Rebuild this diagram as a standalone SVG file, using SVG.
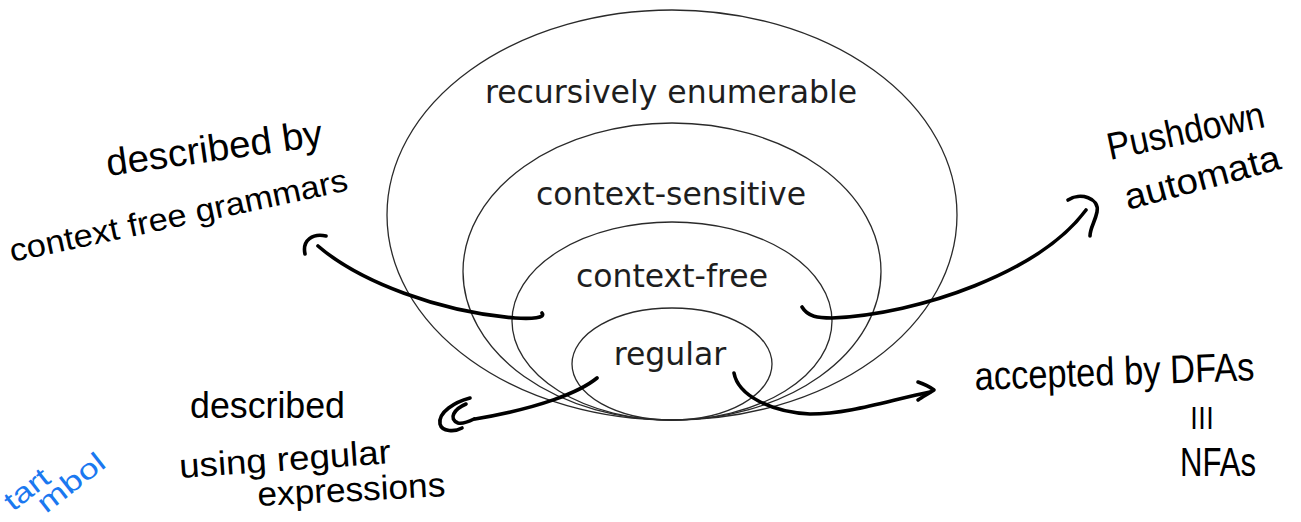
<svg xmlns="http://www.w3.org/2000/svg" width="1301" height="522" viewBox="0 0 1301 522">
  <style>
    .set { fill: none; stroke: #2a2a2a; stroke-width: 1.3; }
    .lbl { font-family: "DejaVu Sans", sans-serif; font-size: 31.5px; fill: #1e1e1e; text-anchor: middle; }
    .hand { font-family: "Liberation Sans", "DejaVu Sans", sans-serif; fill: #000; }
    .blue { font-family: "Liberation Sans", "DejaVu Sans", sans-serif; fill: #1a78f0; }
    .ink { fill: none; stroke: #000; stroke-width: 3.6; stroke-linecap: round; stroke-linejoin: round; }
  </style>
  <rect width="1301" height="522" fill="#fff"/>

  <!-- nested language classes, all touching at the bottom -->
  <g id="recursively-enumerable">
    <ellipse class="set" cx="672" cy="215" rx="285" ry="205"/>
    <text class="lbl" x="671" y="103">recursively enumerable</text>
  </g>
  <g id="context-sensitive">
    <ellipse class="set" cx="672" cy="271.5" rx="209" ry="148.5"/>
    <text class="lbl" x="671" y="205">context-sensitive</text>
  </g>
  <g id="context-free">
    <ellipse class="set" cx="672" cy="321" rx="160" ry="99"/>
    <text class="lbl" x="672" y="287">context-free</text>
  </g>
  <g id="regular">
    <ellipse class="set" cx="672" cy="364" rx="100" ry="56"/>
    <text class="lbl" x="670" y="365">regular</text>
  </g>

  <!-- handwritten notes -->
  <g id="note-cfg">
    <text class="hand" font-size="38" transform="translate(108,176) rotate(-8)" textLength="218" lengthAdjust="spacingAndGlyphs">described by</text>
    <text class="hand" font-size="32" transform="translate(12,262) rotate(-12)" textLength="345" lengthAdjust="spacingAndGlyphs">context free grammars</text>
  </g>
  <g id="note-pda">
    <text class="hand" font-size="38" transform="translate(1110,160) rotate(-12)" textLength="160" lengthAdjust="spacingAndGlyphs">Pushdown</text>
    <text class="hand" font-size="36" transform="translate(1128,210) rotate(-15)" textLength="160" lengthAdjust="spacingAndGlyphs">automata</text>
  </g>
  <g id="note-fa">
    <text class="hand" font-size="40" transform="translate(975,390) rotate(-2)" textLength="280" lengthAdjust="spacingAndGlyphs">accepted by DFAs</text>
    <text class="hand" font-size="24" x="1190" y="424" textLength="24" lengthAdjust="spacingAndGlyphs">|||</text>
    <text class="hand" font-size="40" x="1180" y="476" textLength="76" lengthAdjust="spacingAndGlyphs">NFAs</text>
  </g>
  <g id="note-regex">
    <text class="hand" font-size="36" x="190" y="418" textLength="155" lengthAdjust="spacingAndGlyphs">described</text>
    <text class="hand" font-size="34" transform="translate(180,478) rotate(-4)" textLength="212" lengthAdjust="spacingAndGlyphs">using regular</text>
    <text class="hand" font-size="34" transform="translate(258,506) rotate(-3)" textLength="188" lengthAdjust="spacingAndGlyphs">expressions</text>
  </g>
  <g id="note-start">
    <text class="blue" font-size="28" transform="translate(13,512) rotate(-38)" textLength="50" lengthAdjust="spacingAndGlyphs">tart</text>
    <text class="blue" font-size="28" transform="translate(46,514) rotate(-38)" textLength="78" lengthAdjust="spacingAndGlyphs">mbol</text>
  </g>

  <!-- freehand arrows -->
  <g id="connectors">
    <path class="ink" d="M542,313 C546,318 532,319 515,318 C440,312 360,282 318,246"/>
    <path class="ink" stroke-width="4.5" d="M326,236 C313,233 302,240 305,254"/>

    <path class="ink" d="M802,307 C808,317 818,318 832,318 C920,314 1040,272 1086,210"/>
    <path class="ink" d="M1068,200 C1080,192 1100,198 1097,212 C1095,222 1090,228 1090,236"/>

    <path class="ink" d="M597,378 C580,392 540,408 475,419"/>
    <path class="ink" d="M470,398 C455,402 438,412 440,424 C442,432 455,432 462,428"/>
    <path class="ink" stroke-width="2.8" d="M466,404 C454,409 448,419 458,423 C462,424 470,421 474,419"/>

    <path class="ink" d="M734,373 C738,395 770,412 810,414 C850,414 890,400 930,392"/>
    <path class="ink" d="M918,382 C924,384 930,387 934,390 C928,394 922,397 918,400"/>
  </g>
</svg>
